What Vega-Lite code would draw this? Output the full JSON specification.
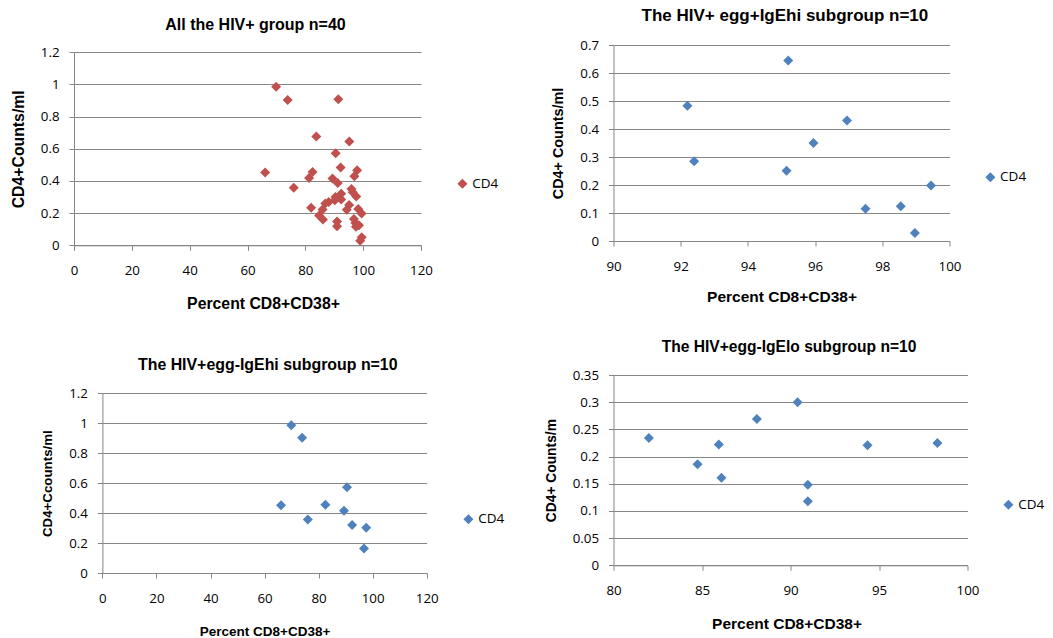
{
  "$schema": "https://vega.github.io/schema/vega-lite/v6.json",
  "padding": {"left": 10, "top": 7, "right": 0, "bottom": 0},
  "background": "white",
  "datasets": {
    "all": [
      {"pct": 92.2, "cd4": 0.483, "series": "CD4"},
      {"pct": 92.4, "cd4": 0.285, "series": "CD4"},
      {"pct": 95.2, "cd4": 0.645, "series": "CD4"},
      {"pct": 95.15, "cd4": 0.251, "series": "CD4"},
      {"pct": 95.95, "cd4": 0.35, "series": "CD4"},
      {"pct": 96.95, "cd4": 0.43, "series": "CD4"},
      {"pct": 97.5, "cd4": 0.115, "series": "CD4"},
      {"pct": 98.55, "cd4": 0.124, "series": "CD4"},
      {"pct": 98.97, "cd4": 0.029, "series": "CD4"},
      {"pct": 99.45, "cd4": 0.198, "series": "CD4"},
      {"pct": 69.9, "cd4": 0.986, "series": "CD4"},
      {"pct": 73.9, "cd4": 0.904, "series": "CD4"},
      {"pct": 66.1, "cd4": 0.452, "series": "CD4"},
      {"pct": 76.0, "cd4": 0.358, "series": "CD4"},
      {"pct": 82.5, "cd4": 0.456, "series": "CD4"},
      {"pct": 90.5, "cd4": 0.572, "series": "CD4"},
      {"pct": 89.4, "cd4": 0.416, "series": "CD4"},
      {"pct": 92.4, "cd4": 0.321, "series": "CD4"},
      {"pct": 97.6, "cd4": 0.303, "series": "CD4"},
      {"pct": 96.8, "cd4": 0.163, "series": "CD4"},
      {"pct": 82.0, "cd4": 0.234, "series": "CD4"},
      {"pct": 84.75, "cd4": 0.186, "series": "CD4"},
      {"pct": 85.95, "cd4": 0.222, "series": "CD4"},
      {"pct": 86.1, "cd4": 0.161, "series": "CD4"},
      {"pct": 88.1, "cd4": 0.269, "series": "CD4"},
      {"pct": 90.4, "cd4": 0.3, "series": "CD4"},
      {"pct": 90.98, "cd4": 0.148, "series": "CD4"},
      {"pct": 90.98, "cd4": 0.118, "series": "CD4"},
      {"pct": 94.35, "cd4": 0.221, "series": "CD4"},
      {"pct": 98.3, "cd4": 0.225, "series": "CD4"},
      {"pct": 91.4, "cd4": 0.908, "series": "CD4"},
      {"pct": 83.8, "cd4": 0.677, "series": "CD4"},
      {"pct": 81.3, "cd4": 0.418, "series": "CD4"},
      {"pct": 97.9, "cd4": 0.466, "series": "CD4"},
      {"pct": 91.2, "cd4": 0.387, "series": "CD4"},
      {"pct": 96.4, "cd4": 0.33, "series": "CD4"},
      {"pct": 90.2, "cd4": 0.28, "series": "CD4"},
      {"pct": 86.9, "cd4": 0.26, "series": "CD4"},
      {"pct": 97.3, "cd4": 0.139, "series": "CD4"},
      {"pct": 99.5, "cd4": 0.05, "series": "CD4"}
    ],
    "eggPlusHi": [
      {"pct": 92.2, "cd4": 0.483, "series": "CD4"},
      {"pct": 92.4, "cd4": 0.285, "series": "CD4"},
      {"pct": 95.2, "cd4": 0.645, "series": "CD4"},
      {"pct": 95.15, "cd4": 0.251, "series": "CD4"},
      {"pct": 95.95, "cd4": 0.35, "series": "CD4"},
      {"pct": 96.95, "cd4": 0.43, "series": "CD4"},
      {"pct": 97.5, "cd4": 0.115, "series": "CD4"},
      {"pct": 98.55, "cd4": 0.124, "series": "CD4"},
      {"pct": 98.97, "cd4": 0.029, "series": "CD4"},
      {"pct": 99.45, "cd4": 0.198, "series": "CD4"}
    ],
    "eggMinusHi": [
      {"pct": 69.9, "cd4": 0.986, "series": "CD4"},
      {"pct": 73.9, "cd4": 0.904, "series": "CD4"},
      {"pct": 66.1, "cd4": 0.452, "series": "CD4"},
      {"pct": 76.0, "cd4": 0.358, "series": "CD4"},
      {"pct": 82.5, "cd4": 0.456, "series": "CD4"},
      {"pct": 90.5, "cd4": 0.572, "series": "CD4"},
      {"pct": 89.4, "cd4": 0.416, "series": "CD4"},
      {"pct": 92.4, "cd4": 0.321, "series": "CD4"},
      {"pct": 97.6, "cd4": 0.303, "series": "CD4"},
      {"pct": 96.8, "cd4": 0.163, "series": "CD4"}
    ],
    "eggMinusLo": [
      {"pct": 82.0, "cd4": 0.234, "series": "CD4"},
      {"pct": 84.75, "cd4": 0.186, "series": "CD4"},
      {"pct": 85.95, "cd4": 0.222, "series": "CD4"},
      {"pct": 86.1, "cd4": 0.161, "series": "CD4"},
      {"pct": 88.1, "cd4": 0.269, "series": "CD4"},
      {"pct": 90.4, "cd4": 0.3, "series": "CD4"},
      {"pct": 90.98, "cd4": 0.148, "series": "CD4"},
      {"pct": 90.98, "cd4": 0.118, "series": "CD4"},
      {"pct": 94.35, "cd4": 0.221, "series": "CD4"},
      {"pct": 98.3, "cd4": 0.225, "series": "CD4"}
    ]
  },
  "concat": [
    {
      "width": 347, "height": 200.3,
      "title": {"text": "All the HIV+ group n=40", "fontSize": 16, "offset": 12.3, "dx": 8, "frame": "group"},
      "data": {"name": "all"},
      "mark": {"type": "point", "shape": "diamond", "filled": true, "size": 100, "opacity": 1},
      "encoding": {
        "x": {"field": "pct", "type": "quantitative", "scale": {"domain": [0, 120], "nice": false, "zero": false},
              "axis": {"values": [0, 20, 40, 60, 80, 100, 120], "title": "Percent CD8+CD38+", "titleFontSize": 15.8, "titleX": 189}},
        "y": {"field": "cd4", "type": "quantitative", "scale": {"domain": [0, 1.2], "nice": false, "range": [200.3, 7.3]},
              "axis": {"values": [0, 0.2, 0.4, 0.6, 0.8, 1, 1.2], "title": "CD4+Counts/ml", "titleFontSize": 15.8}},
        "color": {"field": "series", "type": "nominal", "scale": {"range": ["#C0504D"]},
                  "legend": {"orient": "none", "legendX": 381.7, "legendY": 132}}
      }
    },
    {
      "width": 336, "height": 196,
      "title": {"text": "The HIV+ egg+IgEhi subgroup n=10", "fontSize": 17, "offset": 13, "dx": 3.4, "frame": "group"},
      "data": {"name": "eggPlusHi"},
      "mark": {"type": "point", "shape": "diamond", "filled": true, "size": 100, "opacity": 1},
      "encoding": {
        "x": {"field": "pct", "type": "quantitative", "scale": {"domain": [90, 100], "nice": false, "zero": false},
              "axis": {"values": [90, 92, 94, 96, 98, 100], "title": "Percent CD8+CD38+", "titleFontSize": 15.5, "titlePadding": 17}},
        "y": {"field": "cd4", "type": "quantitative", "scale": {"domain": [0, 0.7], "nice": false},
              "axis": {"values": [0, 0.1, 0.2, 0.3, 0.4, 0.5, 0.6, 0.7], "title": "CD4+ Counts/ml", "titleFontSize": 14.4}},
        "color": {"field": "series", "type": "nominal", "scale": {"range": ["#4F81BD"]},
                  "legend": {"orient": "none", "legendX": 370.1, "legendY": 125.5}}
      }
    },
    {
      "width": 352.7, "height": 198,
      "title": {"text": "The HIV+egg-IgEhi subgroup n=10", "fontSize": 15.9, "offset": 2.3, "dx": 17.4, "frame": "group"},
      "data": {"name": "eggMinusHi"},
      "mark": {"type": "point", "shape": "diamond", "filled": true, "size": 100, "opacity": 1},
      "encoding": {
        "x": {"field": "pct", "type": "quantitative", "scale": {"domain": [0, 120], "nice": false, "zero": false, "range": [28.4, 352.7]},
              "axis": {"values": [0, 20, 40, 60, 80, 100, 120], "title": "Percent CD8+CD38+", "titleFontSize": 13.5}},
        "y": {"field": "cd4", "type": "quantitative", "scale": {"domain": [0, 1.2], "nice": false, "range": [198, 18.3]},
              "axis": {"values": [0, 0.2, 0.4, 0.6, 0.8, 1, 1.2], "title": "CD4+Ccounts/ml", "titleFontSize": 13.3, "offset": -28.4}},
        "color": {"field": "series", "type": "nominal", "scale": {"range": ["#4F81BD"]},
                  "legend": {"orient": "none", "legendX": 387.7, "legendY": 137.5}}
      }
    },
    {
      "width": 354, "height": 190.3,
      "title": {"text": "The HIV+egg-IgElo subgroup n=10", "fontSize": 15.6, "offset": 12.5, "dx": -1.5, "frame": "group"},
      "data": {"name": "eggMinusLo"},
      "mark": {"type": "point", "shape": "diamond", "filled": true, "size": 100, "opacity": 1},
      "encoding": {
        "x": {"field": "pct", "type": "quantitative", "scale": {"domain": [80, 100], "nice": false, "zero": false},
              "axis": {"values": [80, 85, 90, 95, 100], "title": "Percent CD8+CD38+", "titleFontSize": 15.5, "titleX": 173}},
        "y": {"field": "cd4", "type": "quantitative", "scale": {"domain": [0, 0.35], "nice": false},
              "axis": {"values": [0, 0.05, 0.1, 0.15, 0.2, 0.25, 0.3, 0.35], "title": "CD4+ Counts/m", "titleFontSize": 13.8}},
        "color": {"field": "series", "type": "nominal", "scale": {"range": ["#4F81BD"]},
                  "legend": {"orient": "none", "legendX": 388.2, "legendY": 123}}
      }
    }
  ],
  "columns": 2,
  "align": "each",
  "spacing": {"row": 27, "column": 38.5},
  "resolve": {"scale": {"color": "independent"}, "legend": {"color": "independent"}},
  "config": {
    "font": "Liberation Sans",
    "view": {"stroke": null},
    "title": {"font": "Liberation Sans", "fontWeight": "bold", "color": "#000000", "anchor": "middle"},
    "axis": {
      "domainColor": "#868686", "tickColor": "#868686", "gridColor": "#868686",
      "domainWidth": 1, "tickWidth": 1, "gridWidth": 1, "tickSize": 5,
      "labelFont": "Open Sans", "labelFontSize": 13.3, "labelColor": "#000000",
      "titleFont": "Liberation Sans", "titleFontWeight": "bold", "titleColor": "#000000",
      "labelFlush": false, "format": "~r"
    },
    "axisX": {"grid": false, "labelPadding": 13, "titlePadding": 20},
    "axisY": {"grid": true, "labelPadding": 10, "titlePadding": 14},
    "legend": {"title": null, "symbolType": "diamond", "symbolSize": 100, "symbolStrokeWidth": 0,
               "labelFont": "Open Sans", "labelFontSize": 13.5, "labelColor": "#000000", "labelOffset": 3}
  }
}
